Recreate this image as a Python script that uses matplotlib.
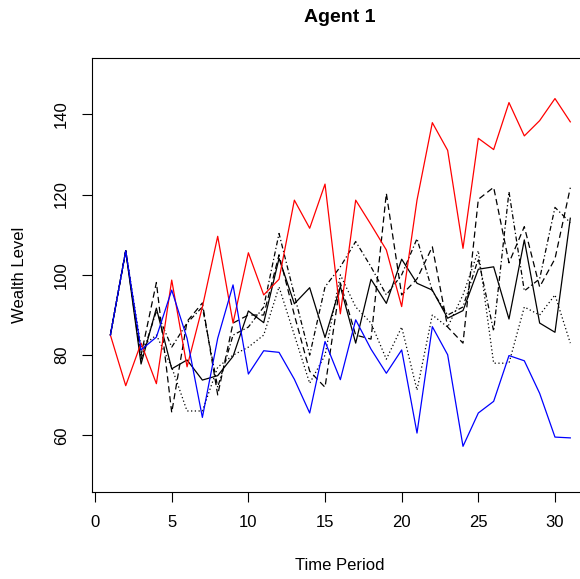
import numpy as np
import matplotlib.pyplot as plt

plt.rcParams['font.family'] = ['Liberation Sans', 'DejaVu Sans']

periods = list(range(1, 32))

red = [85, 72.4, 83, 72.9, 98.7, 77.1, 92, 109.6, 88, 105.5, 95, 98.9, 118.6, 111.6, 122.6,
       90.3, 118.6, 112.5, 106.2, 92.1, 118.6, 137.9, 131, 106.6, 134, 131.2, 142.9, 134.6,
       138.4, 143.9, 138.1]
blue = [85, 106, 81.3, 84.5, 96.2, 84.2, 64.5, 84.2, 97.5, 75.3, 81.1, 80.7, 74, 65.6, 83.4,
        73.9, 88.8, 81.5, 75.5, 81.3, 60.6, 87.1, 80.1, 57.3, 65.6, 68.5, 79.9, 78.6, 70.5,
        59.6, 59.4]
solid = [85, 106, 77.8, 91.7, 76.6, 78.8, 73.8, 74.9, 79.7, 91, 88.1, 104.1, 92.8, 96.8, 84.4,
         97.1, 83, 98.9, 92.9, 103.9, 97.9, 96.2, 89.2, 91.1, 101.4, 102, 89, 108.7, 88, 85.7,
         114.1]
dashed = [85, 106, 80, 98.1, 65.7, 88.4, 93, 70.1, 88, 90, 90, 105, 90, 76, 72, 98, 85, 84,
          120.3, 95, 99, 107, 87, 83, 118.8, 121.8, 103, 112, 97, 104, 121.7]
dotted = [85, 106, 82, 85, 77, 66.1, 66.1, 77, 80, 82, 85, 97, 85, 73, 80, 100, 92, 88, 79,
          87, 71.3, 90, 87, 95, 106, 78, 78, 92, 90, 95, 83]
dotdash = [85, 106, 79, 91, 82, 88, 92, 72, 85, 87, 92, 110.3, 95, 80, 97, 102, 108.3, 102,
           95, 100, 109, 96, 90, 92, 104, 86, 120.7, 96, 99, 116.8, 113]

fig = plt.figure(figsize=(5.8, 5.79), dpi=100)
# plot box runs a bit past the right edge, like the original
ax = fig.add_axes([92 / 580, 87.3 / 579, 496.7 / 580, 433.7 / 579])

ax.plot(periods, solid, color='black', lw=0.9)
ax.plot(periods, dashed, color='black', lw=0.9, dashes=(5, 3))
ax.plot(periods, dotted, color='black', lw=0.9, dashes=(1, 2))
ax.plot(periods, dotdash, color='black', lw=0.9, dashes=(1, 2, 4, 2))
ax.plot(periods, red, color='red', lw=0.9)
ax.plot(periods, blue, color='blue', lw=0.9)

ax.set_xlim(-0.2, 32.2)
ax.set_ylim(46, 154)
ax.set_xticks(range(0, 31, 5))
ax.set_yticks(range(60, 141, 20))
ax.tick_params(direction='out', length=7.2, width=0.8, labelsize=12, pad=9.5)
for lab in ax.get_yticklabels():
    lab.set_rotation(90)
    lab.set_va('center')
for sp in ax.spines.values():
    sp.set_linewidth(0.8)

fig.text(20 / 580, 1 - 275 / 579, 'Wealth Level', rotation=90, ha='center', va='center', fontsize=12)
fig.text(340 / 580, 1 - 565 / 579, 'Time Period', ha='center', va='center', fontsize=12)
fig.text(340 / 580, 1 - 18 / 579, 'Agent 1', ha='center', va='center', fontsize=14, fontweight='bold')

fig.savefig('out.png', dpi=100)
